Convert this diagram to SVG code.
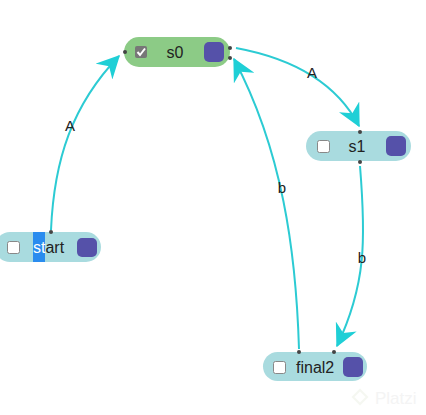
<svg xmlns="http://www.w3.org/2000/svg" width="426" height="415" viewBox="0 0 426 415">
<style>
.node{fill:#a9dbdf}
.node0{fill:#8ccb86}
.lbl{font-family:"Liberation Sans",Arial,sans-serif;font-size:16px;fill:#222}
.elbl{font-family:"Liberation Sans",Arial,sans-serif;font-size:15px;fill:#222;text-anchor:middle}
.cb{fill:#fff;stroke:#888;stroke-width:1}
.pur{fill:#5551a9}
.dot{fill:#444}
.edge{fill:none;stroke:#2ccbd3;stroke-width:2}
</style>
<defs>
<marker id="arr" viewBox="0 0 16 16" refX="15" refY="8" markerWidth="23" markerHeight="23" markerUnits="userSpaceOnUse" orient="auto">
<path d="M0,0 L16,8 L0,16 L5,8 z" fill="#1fcfd6"/>
</marker>
</defs>
<g id="connectors">
<path class="edge" d="M51,230 C54,160 72,105 119,56" marker-end="url(#arr)"/>
<text class="elbl" x="70" y="131">A</text>
<path class="edge" d="M236,48 C290,58 335,80 359,126" marker-end="url(#arr)"/>
<text class="elbl" x="312" y="78">A</text>
<path class="edge" d="M360,166 C366,240 366,285 337,346" marker-end="url(#arr)"/>
<text class="elbl" x="362" y="263">b</text>
<path class="edge" d="M299,349 C296,250 282,150 234,59" marker-end="url(#arr)"/>
<text class="elbl" x="282" y="193">b</text>
</g>
<g id="s0">
<rect class="node0" x="124" y="37" width="106" height="30" rx="15"/>
<rect x="135" y="46" width="12" height="12" rx="2" fill="#777"/>
<path d="M137.5,52 L140,55 L145,48.5" fill="none" stroke="#fff" stroke-width="2"/>
<text class="lbl" x="175" y="58" text-anchor="middle">s0</text>
<rect class="pur" x="204" y="42" width="20" height="20" rx="5"/>
<circle class="dot" cx="125" cy="52" r="2"/>
<circle class="dot" cx="230" cy="48" r="2"/>
<circle class="dot" cx="230" cy="58" r="2"/>
</g>
<g id="start">
<rect class="node" x="-5" y="232" width="106" height="30" rx="15"/>
<rect class="cb" x="7.5" y="241.5" width="12" height="12" rx="2"/>
<rect x="33" y="232" width="12" height="30" fill="#2a8cef"/>
<text class="lbl" x="33" y="253"><tspan fill="#fff">st</tspan>art</text>
<rect class="pur" x="77" y="238" width="20" height="19" rx="5"/>
<circle class="dot" cx="51" cy="232" r="2"/>
</g>
<g id="s1">
<rect class="node" x="306" y="131" width="105" height="30" rx="15"/>
<rect class="cb" x="317.5" y="140.5" width="12" height="12" rx="2"/>
<text class="lbl" x="357" y="152" text-anchor="middle">s1</text>
<rect class="pur" x="386" y="136" width="20" height="20" rx="5"/>
<circle class="dot" cx="360" cy="132" r="2"/>
<circle class="dot" cx="360" cy="162" r="2"/>
</g>
<g id="final2">
<rect class="node" x="263" y="352" width="104" height="29" rx="14.5"/>
<rect class="cb" x="273.5" y="361.5" width="12" height="12" rx="2"/>
<text class="lbl" x="296" y="373">final2</text>
<rect class="pur" x="343" y="357" width="20" height="20" rx="5"/>
<circle class="dot" cx="299" cy="352" r="2"/>
<circle class="dot" cx="334" cy="352" r="2"/>
</g>
<g id="watermark" opacity="0.35">
<path d="M360,390 L367,397 L360,404 L353,397 z" fill="none" stroke="#e4ead8" stroke-width="2"/>
<text x="375" y="404" font-family="'Liberation Sans',Arial,sans-serif" font-size="17" fill="#e0e0e0">Platzi</text>
</g>
</svg>
